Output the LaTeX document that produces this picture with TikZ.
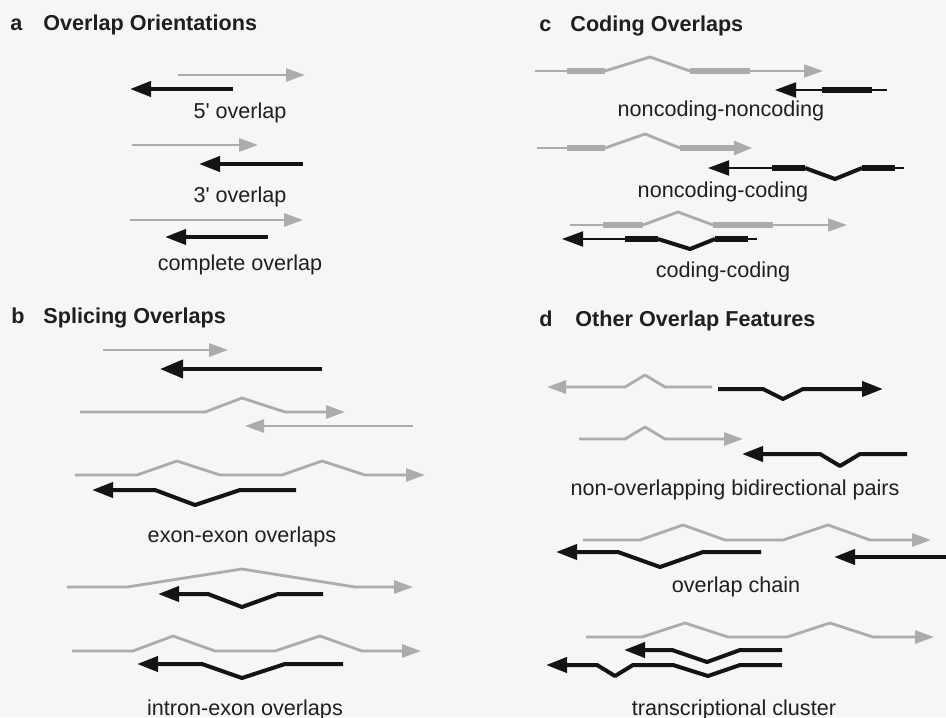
\documentclass[tikz,border=0pt]{standalone}
\usepackage{fontspec}
\setmainfont{Liberation Sans}
\usetikzlibrary{arrows.meta}
\definecolor{gcol}{RGB}{172,172,172}
\definecolor{bcol}{RGB}{20,20,20}
\definecolor{bgcol}{RGB}{246,246,246}
\tikzset{
  gl/.style={draw=gcol, line width=1.4pt, line join=round},
  gx/.style={draw=gcol, line width=2.6pt},
  gthin/.style={draw=gcol, line width=0.8pt},
  bl/.style={draw=bcol, line width=2pt, line join=round},
  bx/.style={draw=bcol, line width=3pt},
  bthin/.style={draw=bcol, line width=1pt},
  gtip/.style={-{Triangle[length=9.5pt,width=6.5pt]}},
  btip/.style={-{Triangle[length=10.5pt,width=7.5pt]}},
  bbig/.style={-{Triangle[length=11.5pt,width=9pt]}},
  lab/.style={font=\fontsize{10.8pt}{12pt}\selectfont, text=black!88, anchor=base, inner sep=0pt},
  ttl/.style={font=\fontsize{10.8pt}{12pt}\selectfont\bfseries, text=black!88, anchor=base west, inner sep=0pt}
}
\begin{document}
\begin{tikzpicture}[x=0.5pt,y=-0.5pt]
\fill[bgcol] (0,0) rectangle (946,717);
\useasboundingbox (0,0) rectangle (946,717);
% ---------------- panel a
\node[ttl] (ta1) at (10,31) {a};
\node[ttl] (ta2) at (43,31) {Overlap Orientations};
\draw[gl,gtip] (178,75) -- (305,75);
\draw[bl,btip] (233,89) -- (130,89);
\node[lab] (la1) at (240,119) {5\textquotesingle{} overlap};
\draw[gl,gtip] (132,145) -- (258,145);
\draw[bl,btip] (303,164) -- (199,164);
\node[lab] (la2) at (240,202) {3\textquotesingle{} overlap};
\draw[gl,gtip] (130,220) -- (303,220);
\draw[bl,btip] (268,237) -- (165,237);
\node[lab] (la3) at (240,270) {complete overlap};
% ---------------- panel b
\node[ttl] (tb1) at (11,323) {b};
\node[ttl] (tb2) at (43,323) {Splicing Overlaps};
\draw[gl,gtip] (103,350) -- (228,350);
\draw[bl,bbig] (322,369) -- (160,369);
\draw[gl,gtip] (80,412) -- (205,412) -- (242,398) -- (285,412) -- (345,412);
\draw[gl,gtip] (413,426) -- (245,426);
\draw[gl,gtip] (75,475) -- (137,475) -- (177,461) -- (220,475) -- (282,475) -- (322,461) -- (365,475) -- (425,475);
\draw[bl,btip] (296,490) -- (240,490) -- (195,505) -- (155,490) -- (92,490);
\node[lab] (lb1) at (242,542) {exon-exon overlaps};
\draw[gl,gtip] (67,587) -- (127,587) -- (242,569) -- (355,587) -- (413,587);
\draw[bl,btip] (323,594) -- (278,594) -- (242,607) -- (208,594) -- (158,594);
\draw[gl,gtip] (72,651) -- (133,651) -- (173,636) -- (215,651) -- (275,651) -- (320,636) -- (362,651) -- (421,651);
\draw[bl,btip] (343,664) -- (285,664) -- (242,678) -- (202,664) -- (137,664);
\node[lab] (lb2) at (245,715) {intron-exon overlaps};
% ---------------- panel c
\node[ttl] (tc1) at (539,32) {c};
\node[ttl] (tc2) at (570,32) {Coding Overlaps};
% row 1
\draw[gthin] (535,71) -- (567,71);
\draw[gx] (567,71) -- (605,71);
\draw[gl] (605,71) -- (650,57) -- (690,71);
\draw[gx] (690,71) -- (750,71);
\draw[gthin,gtip] (750,71) -- (823,71);
\draw[bthin] (887,90) -- (872,90);
\draw[bx] (872,90) -- (822,90);
\draw[bthin,btip] (822,90) -- (775,90);
\node[lab] (lc1) at (721,117) {noncoding-noncoding};
% row 2
\draw[gthin] (537,148) -- (567,148);
\draw[gx] (567,148) -- (605,148);
\draw[gl] (605,148) -- (645,134) -- (680,148);
\draw[gx,gtip] (680,148) -- (753,148);
\draw[bthin] (904,168) -- (895,168);
\draw[bx] (895,168) -- (862,168);
\draw[bl] (862,168) -- (835,179) -- (805,168);
\draw[bx] (805,168) -- (772,168);
\draw[bthin,btip] (772,168) -- (708,168);
\node[lab] (lc2) at (723,197) {noncoding-coding};
% row 3
\draw[gthin] (570,225) -- (603,225);
\draw[gx] (603,225) -- (643,225);
\draw[gl] (643,225) -- (678,212) -- (713,225);
\draw[gx] (713,225) -- (773,225);
\draw[gthin,gtip] (773,225) -- (847,225);
\draw[bthin] (757,239) -- (748,239);
\draw[bx] (748,239) -- (715,239);
\draw[bl] (715,239) -- (690,249) -- (658,239);
\draw[bx] (658,239) -- (625,239);
\draw[bthin,btip] (625,239) -- (562,239);
\node[lab] (lc3) at (723,277) {coding-coding};
% ---------------- panel d
\node[ttl] (td1) at (539,326) {d};
\node[ttl] (td2) at (575,326) {Other Overlap Features};
\draw[gl,gtip] (712,387) -- (665,387) -- (645,375) -- (625,387) -- (547,387);
\draw[bl,btip] (718,389) -- (763,389) -- (783,399) -- (803,389) -- (883,389);
\draw[gl,gtip] (579,439) -- (625,439) -- (645,427) -- (665,439) -- (743,439);
\draw[bl,btip] (907,454) -- (860,454) -- (840,466) -- (820,454) -- (742,454);
\node[lab] (ld1) at (735,495) {non-overlapping bidirectional pairs};
\draw[gl,gtip] (583,540) -- (640,540) -- (683,525) -- (725,540) -- (783,540) -- (828,525) -- (870,540) -- (931,540);
\draw[bl,btip] (761,552) -- (703,552) -- (660,567) -- (618,552) -- (556,552);
\draw[bl,btip] (946,557) -- (834,557);
\node[lab] (ld2) at (736,592) {overlap chain};
\draw[gl,gtip] (586,637) -- (642,637) -- (685,623) -- (728,637) -- (787,637) -- (830,623) -- (873,637) -- (934,637);
\draw[bl,btip] (782,650) -- (740,650) -- (707,662) -- (672,650) -- (624,650);
\draw[bl,btip] (782,665) -- (740,665) -- (708,676) -- (673,665) -- (633,665) -- (615,676) -- (597,665) -- (546,665);
\node[lab] (ld3) at (734,715) {transcriptional cluster};
\end{tikzpicture}
\end{document}
